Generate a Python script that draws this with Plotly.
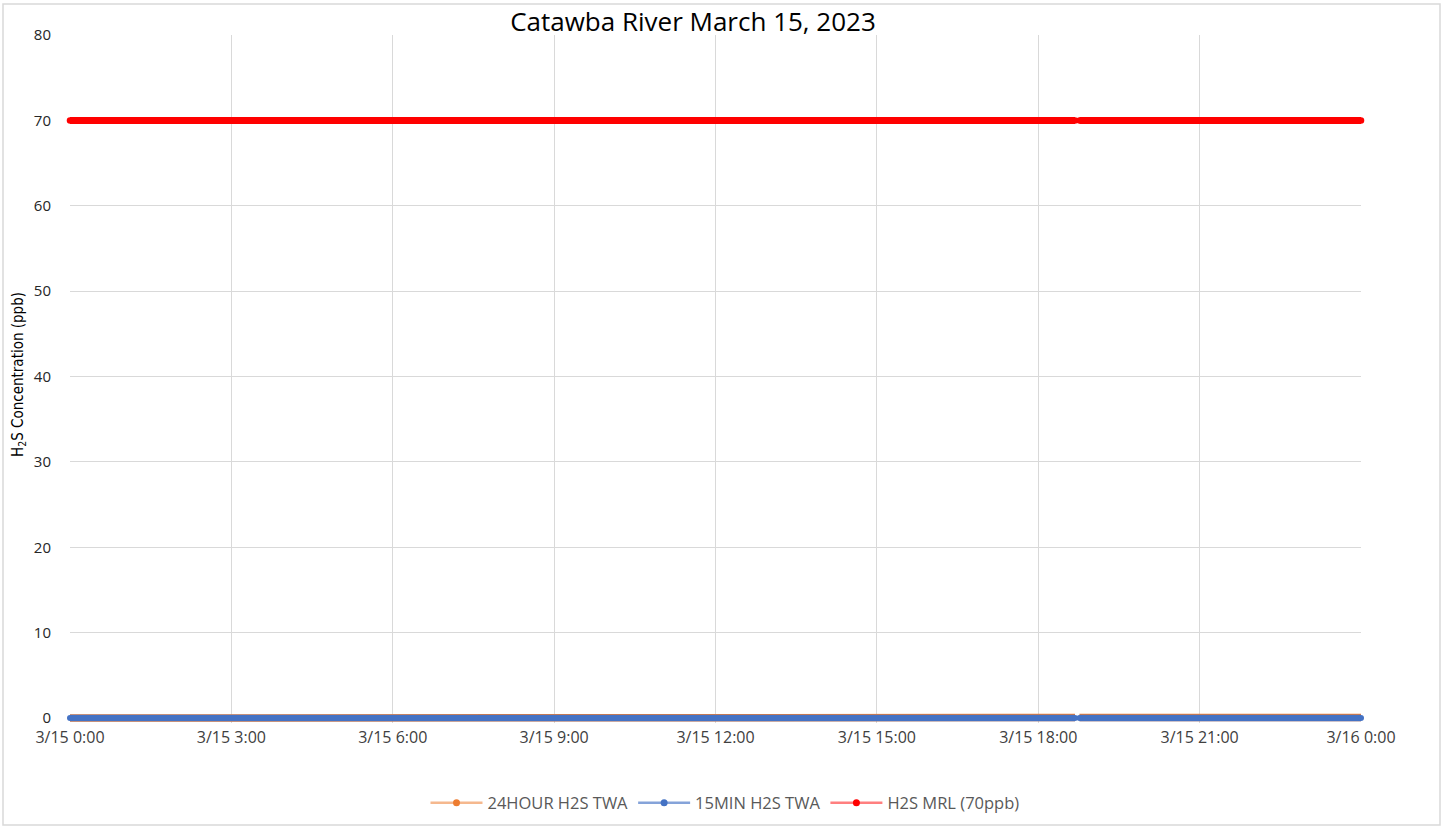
import plotly.graph_objects as go

# ---- data ----
mrl_times = ["2023-03-15 00:00", "2023-03-15 18:41", None, "2023-03-15 18:46", "2023-03-16 00:00"]
mrl_values = [70, 70, None, 70, 70]

twa15_times = ["2023-03-15 00:00", "2023-03-15 18:41", None, "2023-03-15 18:46", "2023-03-16 00:00"]
twa15_values = [0.0, 0.0, None, 0.0, 0.0]

twa24_times = ["2023-03-15 00:00", "2023-03-15 08:20", "2023-03-15 08:20", "2023-03-15 16:00",
               "2023-03-15 16:00", "2023-03-15 16:40", "2023-03-15 16:40", "2023-03-15 18:41",
               None, "2023-03-15 18:46", "2023-03-16 00:00"]
twa24_values = [0.0, 0.0, 0.05, 0.05, 0.0, 0.0, 0.05, 0.05, None, 0.05, 0.05]

x_tick_vals = ["2023-03-15 00:00", "2023-03-15 03:00", "2023-03-15 06:00", "2023-03-15 09:00",
               "2023-03-15 12:00", "2023-03-15 15:00", "2023-03-15 18:00", "2023-03-15 21:00",
               "2023-03-16 00:00"]
x_tick_text = ["3/15 0:00", "3/15 3:00", "3/15 6:00", "3/15 9:00", "3/15 12:00",
               "3/15 15:00", "3/15 18:00", "3/15 21:00", "3/16 0:00"]
y_ticks = [0, 10, 20, 30, 40, 50, 60, 70, 80]

series_names = ["24HOUR H2S TWA", "15MIN H2S TWA", "H2S MRL (70ppb)"]
series_colors = ["#ED7D31", "#4472C4", "#FF0000"]
legend_line_colors = ["rgba(237,125,49,0.55)", "rgba(68,114,196,0.65)", "rgba(255,0,0,0.5)"]

FONT = "Open Sans, Noto Sans, sans-serif"
W, H = 1445, 827
# pixel layout of the plot area (y=80 at 35 px, y=0 at 718 px; area extends a little below 0)
PX_LEFT, PX_RIGHT, PX_TOP, PX_ZERO, PX_BOTTOM = 70, 1361, 35, 718, 723
PW = PX_RIGHT - PX_LEFT
PH = PX_BOTTOM - PX_TOP
Y_MAX = 80
Y_MIN = -(PX_BOTTOM - PX_ZERO) * Y_MAX / (PX_ZERO - PX_TOP)


def px_x(p):
    return (p - PX_LEFT) / PW


def px_y(p):
    return (PX_BOTTOM - p) / PH


fig = go.Figure()
fig.add_trace(go.Scatter(
    x=twa24_times, y=twa24_values, name=series_names[0], mode="lines",
    line=dict(color=series_colors[0], width=7.5), cliponaxis=False, showlegend=False,
))
fig.add_trace(go.Scatter(
    x=twa15_times, y=twa15_values, name=series_names[1], mode="lines+markers",
    line=dict(color=series_colors[1], width=6.5), marker=dict(color=series_colors[1], size=6),
    cliponaxis=False, showlegend=False,
))
fig.add_trace(go.Scatter(
    x=mrl_times, y=mrl_values, name=series_names[2], mode="lines+markers",
    line=dict(color=series_colors[2], width=7), marker=dict(color=series_colors[2], size=6.5),
    cliponaxis=False, showlegend=False,
))
# legend entries (thin line with a marker, as in the reference legend)
for name, col, lcol in zip(series_names, series_colors, legend_line_colors):
    fig.add_trace(go.Scatter(
        x=[None], y=[None], name=name, mode="lines+markers",
        line=dict(color=lcol, width=2.5), marker=dict(color=col, size=7),
        showlegend=True,
    ))

fig.update_layout(
    width=W, height=H,
    margin=dict(l=PX_LEFT, r=W - PX_RIGHT, t=PX_TOP, b=H - PX_BOTTOM, autoexpand=False),
    paper_bgcolor="white", plot_bgcolor="white",
    title=dict(text="Catawba River March 15, 2023", x=693 / W, xanchor="center", xref="container",
               y=1 - 22 / H, yanchor="middle", yref="container",
               font=dict(family=FONT, size=26, color="#000000")),
    font=dict(family=FONT, size=16.5, color="#595959"),
    showlegend=True,
    legend=dict(orientation="h", x=px_x(725), xanchor="center", xref="paper",
                y=px_y(803), yanchor="middle",
                font=dict(family=FONT, size=16.5, color="#595959"),
                traceorder="normal", itemwidth=52),
    shapes=[dict(type="rect", xref="paper", yref="paper",
                 x0=px_x(3), x1=px_x(1440), y0=px_y(825), y1=px_y(4),
                 line=dict(color="#D9D9D9", width=1.5), layer="below")],
    annotations=[dict(text="H<sub>2</sub>S Concentration (ppb)", textangle=-90,
                      xref="paper", yref="paper", x=px_x(18), y=px_y(375),
                      xanchor="center", yanchor="middle", showarrow=False,
                      font=dict(family="Liberation Sans Narrow, DejaVu Sans Condensed, sans-serif",
                                size=15, color="#000000"))],
)

fig.update_xaxes(
    type="date", range=["2023-03-15 00:00", "2023-03-16 00:00"],
    tickvals=x_tick_vals, ticktext=x_tick_text, automargin=False,
    showgrid=True, gridcolor="#D9D9D9", gridwidth=1,
    showline=False, zeroline=False,
    ticks="", ticklabelstandoff=3,
    tickfont=dict(family=FONT, size=16, color="#404040"),
)
fig.update_yaxes(
    range=[Y_MIN, Y_MAX], tickvals=y_ticks, automargin=False,
    showgrid=True, gridcolor="#D9D9D9", gridwidth=1,
    showline=False, zeroline=False,
    ticks="", ticklabelstandoff=18,
    tickfont=dict(family=FONT, size=15, color="#262626"),
)

fig.write_html("out.html", post_script="document.body.style.margin='0';",
               config={"displayModeBar": False})
